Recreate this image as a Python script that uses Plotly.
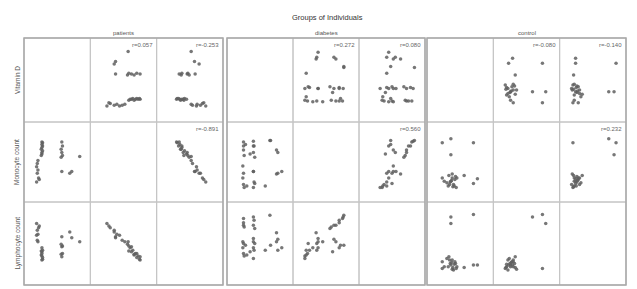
import plotly.graph_objects as go
from plotly.subplots import make_subplots

title_text = "Groups of Individuals"
groups = ["patients", "diabetes", "control"]
variables = ["Vitamin D", "Monocyte count", "Lymphocyte count"]

# patients
p_vitd = [27, 27, 28, 27, 26, 28, 27, 27, 26, 28, 21, 20, 19, 21, 20, 22, 19, 23, 57, 58, 56, 57, 58, 57, 69, 72, 84, 56]
p_mono = [75, 72, 70, 68, 66, 64, 62, 60, 58, 74, 52, 48, 44, 40, 36, 30, 25, 28, 75, 70, 66, 62, 58, 38, 36, 38, 57, 56]
p_lymph = [30, 35, 33, 38, 36, 42, 40, 45, 41, 31, 52, 54, 60, 61, 66, 69, 74, 71, 34, 38, 37, 46, 47, 58, 64, 57, 52, 49]

# diabetes
d_vitd = [25, 25, 25, 26, 25, 24, 25, 26, 40, 41, 40, 42, 40, 41, 40, 30, 35, 28, 83, 75, 75, 65, 58, 42, 40, 40, 66, 77, 77, 24]
d_mono = [75, 70, 65, 58, 36, 30, 22, 18, 76, 70, 62, 56, 38, 25, 18, 20, 60, 72, 38, 35, 65, 77, 20, 23, 38, 70, 77, 62, 36, 45]
d_lymph = [80, 75, 72, 70, 50, 45, 38, 35, 82, 78, 72, 68, 52, 42, 32, 36, 40, 48, 45, 63, 52, 84, 42, 50, 56, 45, 48, 55, 42, 52]

# control
c_vitd = [76, 70, 70, 56, 36, 36, 23, 32, 35, 38, 40, 42, 44, 33, 36, 30, 38, 41, 45, 34, 37, 39, 43, 26, 23]
c_mono = [29, 23, 74, 33, 59, 79, 74, 20, 25, 30, 22, 28, 18, 33, 26, 24, 35, 20, 30, 22, 27, 19, 32, 26, 30]
c_lymph = [24, 24, 85, 21, 82, 74, 20, 22, 26, 30, 18, 28, 20, 34, 24, 32, 19, 25, 22, 30, 27, 21, 26, 22, 28]

# correlation labels for upper cells (0,1), (0,2), (1,2)
p_r = ["r=0.057", "r=-0.253", "r=-0.891"]
d_r = ["r=0.272", "r=0.080", "r=0.560"]
c_r = ["r=-0.080", "r=-0.140", "r=0.232"]

data = [[p_vitd, p_mono, p_lymph], [d_vitd, d_mono, d_lymph], [c_vitd, c_mono, c_lymph]]
rlabels = [p_r, d_r, c_r]

W, H = 625, 281
OFF = 8  # page body margin
group_x = [(24, 223), (227, 425), (427, 626)]
row_y = [(38, 122), (122, 202), (202, 285)]


def px(x):
    return (x - OFF) / W


def py(y):
    return 1 - (y - OFF) / H


fig = make_subplots(rows=3, cols=9)
shapes = []
annotations = []

for g in range(3):
    gx0, gx1 = group_x[g]
    cw = (gx1 - gx0) / 3
    k = 0
    for i in range(3):
        for j in range(3):
            row, col = i + 1, g * 3 + j + 1
            x0 = gx0 + j * cw
            x1 = x0 + cw
            y0, y1 = row_y[i]
            fig.update_xaxes(domain=[px(x0), px(x1)], range=[0, 100], visible=False, row=row, col=col)
            fig.update_yaxes(domain=[py(y1), py(y0)], range=[0, 100], visible=False, row=row, col=col)
            shapes.append(dict(type="rect", xref="paper", yref="paper",
                               x0=px(x0), x1=px(x1), y0=py(y1), y1=py(y0),
                               line=dict(color="#c4c4c4", width=1)))
            if i != j:
                fig.add_trace(go.Scatter(x=data[g][j], y=data[g][i], mode="markers",
                                         marker=dict(size=3.5, color="rgba(95,95,95,0.85)"),
                                         showlegend=False, hoverinfo="skip"),
                              row=row, col=col)
            if i < j:
                annotations.append(dict(text=rlabels[g][k], xref="paper", yref="paper",
                                        x=px(x1 - 2), y=py(y0 + 2),
                                        xanchor="right", yanchor="top", showarrow=False,
                                        font=dict(size=6, color="#666")))
                k += 1
    shapes.append(dict(type="rect", xref="paper", yref="paper",
                       x0=px(gx0), x1=px(gx1), y0=py(285), y1=py(38),
                       line=dict(color="#a8a8a8", width=1.5)))
    annotations.append(dict(text=groups[g], xref="paper", yref="paper",
                            x=px((gx0 + gx1) / 2), y=py(33), xanchor="center", yanchor="middle",
                            showarrow=False, font=dict(size=6, color="#555")))

for i in range(3):
    y0, y1 = row_y[i]
    annotations.append(dict(text=variables[i], xref="paper", yref="paper",
                            x=px(17), y=py((y0 + y1) / 2), textangle=-90,
                            xanchor="center", yanchor="middle",
                            showarrow=False, font=dict(size=6.5, color="#555")))

annotations.append(dict(text=title_text, xref="paper", yref="paper",
                        x=px(327), y=py(17), xanchor="center", yanchor="middle",
                        showarrow=False, font=dict(size=7.5, color="#333")))

fig.update_layout(width=W, height=H, margin=dict(l=0, r=0, t=0, b=0),
                  plot_bgcolor="white", paper_bgcolor="white",
                  font=dict(family="Liberation Sans, Arial, sans-serif"),
                  shapes=shapes, annotations=annotations)

fig.write_html("out.html")
